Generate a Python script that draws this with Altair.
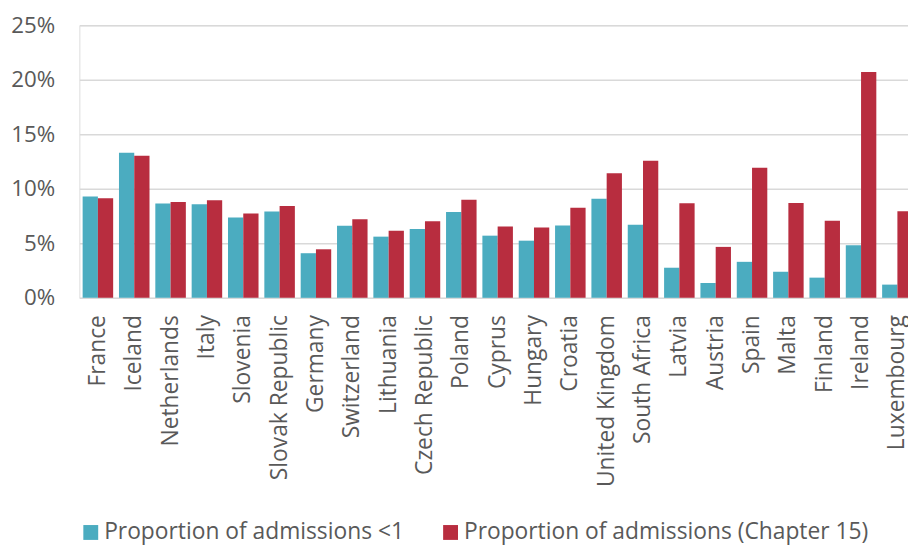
import altair as alt
import pandas as pd

countries = ["France", "Iceland", "Netherlands", "Italy", "Slovenia", "Slovak Republic",
             "Germany", "Switzerland", "Lithuania", "Czech Republic", "Poland", "Cyprus",
             "Hungary", "Croatia", "United Kingdom", "South Africa", "Latvia", "Austria",
             "Spain", "Malta", "Finland", "Ireland", "Luxembourg"]
under1 = [9.30, 13.30, 8.64, 8.58, 7.36, 7.91, 4.09, 6.61, 5.61, 6.30, 7.88, 5.70,
          5.24, 6.64, 9.09, 6.70, 2.76, 1.36, 3.30, 2.39, 1.85, 4.82, 1.21]
chapter15 = [9.12, 13.03, 8.79, 8.94, 7.73, 8.42, 4.45, 7.21, 6.15, 7.03, 9.00, 6.55,
             6.45, 8.27, 11.42, 12.58, 8.67, 4.67, 11.94, 8.70, 7.06, 20.70, 7.94]
series_names = ["Proportion of admissions <1", "Proportion of admissions (Chapter 15)"]
series_colors = ["#4bacc0", "#b82d3f"]
y_ticks = [0, 0.05, 0.10, 0.15, 0.20, 0.25]

rows = []
for c, a, b in zip(countries, under1, chapter15):
    rows.append({"country": c, "series": series_names[0], "value": a / 100})
    rows.append({"country": c, "series": series_names[1], "value": b / 100})
df = pd.DataFrame(rows)

FONT = "Open Sans"
GREY = "#595959"

chart = alt.Chart(df).mark_bar().encode(
    x=alt.X("country:N", sort=countries,
            scale=alt.Scale(rangeMax=844, paddingInner=0.16, paddingOuter=0.09),
            axis=alt.Axis(title=None, labelAngle=270, labelAlign="right",
                          labelBaseline="middle", labelPadding=17, ticks=False,
                          domain=False, grid=False, labelFontSize=23,
                          labelColor=GREY, labelFont=FONT, labelLimit=300)),
    xOffset=alt.XOffset("series:N", sort=series_names,
                        scale=alt.Scale(paddingInner=0, paddingOuter=0)),
    y=alt.Y("value:Q", scale=alt.Scale(domain=[0, 0.25], nice=False),
            axis=alt.Axis(title=None, values=y_ticks, format=".0%", ticks=False,
                          domain=False, grid=True, gridColor="#d9d9d9", gridWidth=1.5,
                          labelFontSize=22.5, labelColor=GREY, labelFont=FONT,
                          labelPadding=25)),
    color=alt.Color("series:N", sort=series_names,
                    scale=alt.Scale(domain=series_names, range=series_colors),
                    legend=alt.Legend(title=None, orient="none", legendX=0, legendY=500,
                                      padding=0, direction="horizontal",
                                      symbolType="square",
                                      symbolSize=225, symbolStrokeWidth=0,
                                      labelFontSize=23, labelFont=FONT,
                                      labelColor=GREY, labelOffset=2,
                                      columnPadding=35, labelLimit=600)),
).properties(
    width=836, height=275,
    autosize=alt.AutoSizeParams(type="none"),
    padding={"left": 72, "top": 15, "right": 0, "bottom": 247},
).configure_view(stroke=None).configure(background="white")

chart.save("out.html", embed_options={"renderer": "svg", "actions": False})
